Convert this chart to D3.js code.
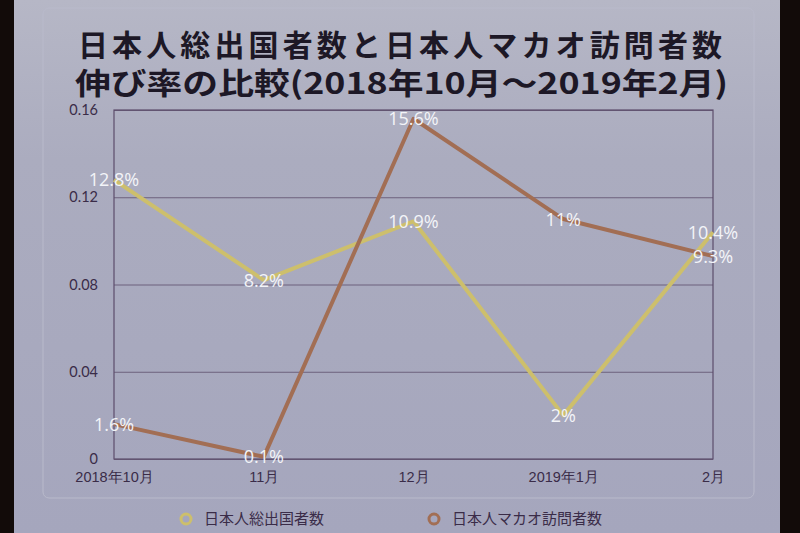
<!DOCTYPE html>
<html>
<head>
<meta charset="utf-8">
<script src="https://cdn.jsdelivr.net/npm/d3@7"></script>
<style>
  html, body { margin: 0; padding: 0; background: #120b09; }
  svg { display: block; font-family: "Noto Sans CJK JP", "Noto Sans", sans-serif; }
</style>
</head>
<body>
<svg id="chart" width="800" height="533"></svg>
<script>
// Data
const months = ['2018年10月', '11月', '12月', '2019年1月', '2月'];
const outbound = [0.128, 0.082, 0.109, 0.02, 0.104];   // 日本人総出国者数
const macau    = [0.016, 0.001, 0.156, 0.11, 0.093];   // 日本人マカオ訪問者数
const outboundLabels = ['12.8%', '8.2%', '10.9%', '2%', '10.4%'];
const macauLabels    = ['1.6%', '0.1%', '15.6%', '11%', '9.3%'];
const yTicks = [0, 0.04, 0.08, 0.12, 0.16];
const seriesNames = ['日本人総出国者数', '日本人マカオ訪問者数'];

const COL_OUT = '#cdbf6c';
const COL_MAC = '#a26e54';
const INK = '#3a2c48';

const svg = d3.select('#chart');

// ── Slide background ────────────────────────────────────────────
const defs = svg.append('defs');
const grad = defs.append('linearGradient').attr('id', 'bg').attr('x1', 0).attr('y1', 0).attr('x2', 0).attr('y2', 1);
grad.append('stop').attr('offset', 0).attr('stop-color', '#b6b7c6');
grad.append('stop').attr('offset', 0.3).attr('stop-color', '#abacbf');
grad.append('stop').attr('offset', 1).attr('stop-color', '#a5a6bd');

svg.append('rect').attr('x', 14).attr('y', 0).attr('width', 766).attr('height', 533).attr('fill', 'url(#bg)');
svg.append('rect').attr('x', 43).attr('y', 8).attr('width', 711).attr('height', 490)
  .attr('rx', 6).attr('fill', 'none').attr('stroke', '#b9bacb').attr('stroke-width', 1);

// ── Title ───────────────────────────────────────────────────────
const title = svg.append('g').attr('fill', '#1d1826').attr('font-weight', 700).attr('font-size', 30);
title.append('text').attr('x', 78).attr('y', 56)
  .attr('textLength', 644).attr('lengthAdjust', 'spacing')
  .text('日本人総出国者数と日本人マカオ訪問者数');
title.append('text').attr('x', 75).attr('y', 94)
  .attr('textLength', 653).attr('lengthAdjust', 'spacingAndGlyphs')
  .text('伸び率の比較(2018年10月～2019年2月)');

// ── Scales ──────────────────────────────────────────────────────
const x = d3.scalePoint().domain(months).range([114, 713]);
const y = d3.scaleLinear().domain([0, 0.16]).range([459, 110]);

// gridlines
svg.append('g')
  .attr('transform', 'translate(114,0)')
  .call(d3.axisLeft(y).tickValues(yTicks).tickSize(-(713 - 114)).tickFormat(''))
  .call(g => g.select('.domain').remove())
  .call(g => g.selectAll('line').attr('stroke', '#6c607c').attr('stroke-width', 1));

// plot frame
svg.append('rect')
  .attr('x', 114).attr('y', y(0.16))
  .attr('width', 713 - 114).attr('height', y(0) - y(0.16))
  .attr('fill', 'none').attr('stroke', '#5d4d6c').attr('stroke-width', 1.2);

// y tick labels
svg.append('g')
  .attr('transform', 'translate(98,0)')
  .call(d3.axisLeft(y).tickValues(yTicks).tickSize(0).tickPadding(0).tickFormat(d => d === 0 ? '0' : d3.format('.2f')(d)))
  .call(g => g.select('.domain').remove())
  .call(g => g.selectAll('text').attr('fill', INK).attr('font-size', 14.5)
    .attr('font-family', 'Lato, "Noto Sans", sans-serif'));

// x tick labels
svg.append('g')
  .attr('transform', 'translate(0,459)')
  .call(d3.axisBottom(x).tickSize(0).tickPadding(13))
  .call(g => g.select('.domain').remove())
  .call(g => g.selectAll('text').attr('fill', INK).attr('font-size', 14.5));

// ── Lines ───────────────────────────────────────────────────────
const line = d3.line().x((d, i) => x(months[i])).y(d => y(d));

svg.append('path').datum(outbound)
  .attr('d', line).attr('fill', 'none')
  .attr('stroke', COL_OUT).attr('stroke-width', 4).attr('stroke-linejoin', 'round');

svg.append('path').datum(macau)
  .attr('d', line).attr('fill', 'none')
  .attr('stroke', COL_MAC).attr('stroke-width', 4).attr('stroke-linejoin', 'round');

// ── Data labels ─────────────────────────────────────────────────
function drawLabels(values, labels) {
  svg.append('g').selectAll('text')
    .data(values)
    .join('text')
      .attr('x', (d, i) => x(months[i]))
      .attr('y', d => y(d))
      .attr('dy', '0.36em')
      .attr('text-anchor', 'middle')
      .attr('font-size', 18)
      .attr('font-family', '"Open Sans", "Noto Sans", sans-serif')
      .attr('fill', '#f3f4f8')
      .text((d, i) => labels[i]);
}
drawLabels(outbound, outboundLabels);
drawLabels(macau, macauLabels);

// ── Legend ──────────────────────────────────────────────────────
const legend = svg.append('g').attr('font-size', 15).attr('fill', INK);
const legendPos = [186, 434];
[COL_OUT, COL_MAC].forEach((c, i) => {
  legend.append('circle').attr('cx', legendPos[i]).attr('cy', 519).attr('r', 5)
    .attr('fill', 'none').attr('stroke', c).attr('stroke-width', 3);
  legend.append('text').attr('x', legendPos[i] + 18).attr('y', 519).attr('dy', '0.36em')
    .text(seriesNames[i]);
});
</script>
</body>
</html>
